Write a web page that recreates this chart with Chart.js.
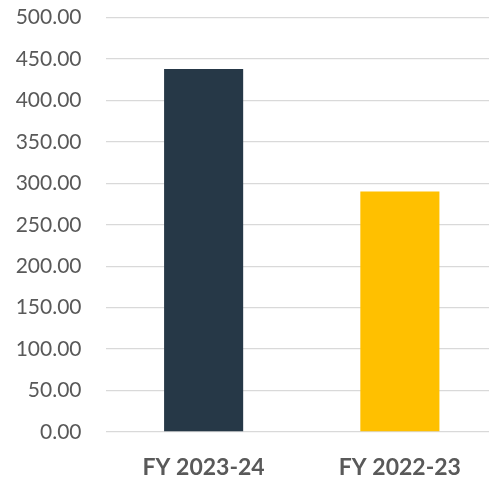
<!DOCTYPE html>
<html>
<head>
<meta charset="utf-8">
<script src="https://cdn.jsdelivr.net/npm/chart.js@4"></script>
<style>
  html, body { margin: 0; padding: 0; background: #fff; overflow: hidden; }
  #wrap { width: 498px; height: 480px; }
</style>
</head>
<body>
<div id="wrap"><canvas id="chart" width="498" height="480"></canvas></div>
<script>
// data
const categories = ['FY 2023-24', 'FY 2022-23'];
const values = [438, 290];
const barColors = ['#263847', '#FFC000'];
const yTicks = { min: 0, max: 500, step: 50 };

const canvas = document.querySelector('#chart');

const chart = new Chart(canvas, {
  type: 'bar',
  data: {
    labels: categories,
    datasets: [{
      data: values,
      backgroundColor: barColors,
      borderWidth: 0,
      barPercentage: 0.403,
      categoryPercentage: 1
    }]
  },
  options: {
    responsive: false,
    animation: false,
    layout: { padding: { top: 17.5, right: 0, left: 0, bottom: 0 } },
    plugins: {
      legend: { display: false },
      tooltip: { enabled: false }
    },
    scales: {
      x: {
        grid: { display: false, drawTicks: false },
        border: { display: false },
        ticks: {
          color: '#595959',
          padding: 22,
          font: { family: 'Lato', size: 23, weight: 'bold' }
        },
        afterFit: (scale) => { scale.height = 48; }
      },
      y: {
        min: yTicks.min,
        max: yTicks.max,
        // invisible tick marks push the labels away from the plot
        grid: { color: '#D9D9D9', lineWidth: 1.3, drawTicks: true, tickLength: 24, tickColor: 'rgba(0,0,0,0)' },
        border: { display: false },
        ticks: {
          stepSize: yTicks.step,
          color: '#595959',
          padding: 0,
          font: { family: 'Lato', size: 21 },
          callback: (v) => v.toFixed(2)
        },
        afterFit: (scale) => { scale.width = 105.5; }
      }
    }
  }
});
</script>
</body>
</html>
